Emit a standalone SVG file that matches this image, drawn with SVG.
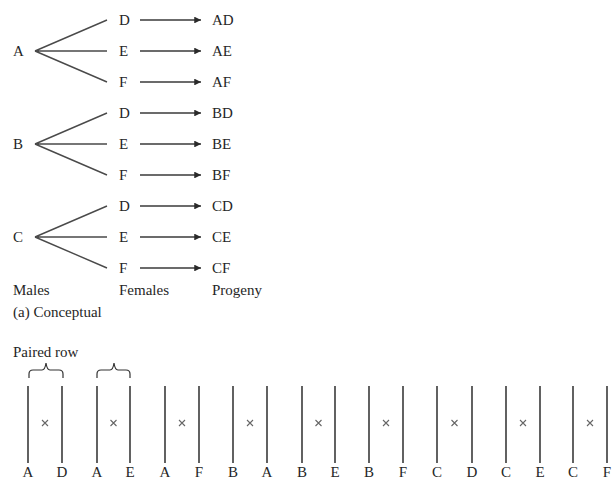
<svg xmlns="http://www.w3.org/2000/svg" width="613" height="479" viewBox="0 0 613 479">
  <style>
    text { font-family: "Liberation Serif", "Times New Roman", serif; font-size: 15px; fill: #262626; }
    .mid { text-anchor: middle; }
    .fan { stroke: #4a4a4a; stroke-width: 1.4; fill: none; }
    .arrow { stroke: #3a3a3a; stroke-width: 1.5; fill: none; marker-end: url(#head); }
    .row { stroke: #3a3a3a; stroke-width: 1.6; }
    .brace { stroke: #333; stroke-width: 1.2; fill: none; }
    .cross { stroke: #666; stroke-width: 1.1; fill: none; }
  </style>
  <defs>
    <marker id="head" viewBox="0 0 10 10" refX="10" refY="5" markerWidth="5" markerHeight="4.5" orient="auto" markerUnits="strokeWidth">
      <path d="M0,0 L10,5 L0,10 z" fill="#2a2a2a"/>
    </marker>
    <!-- small multiplication sign between the two rows of a pair -->
    <path id="x-mark" class="cross" d="M-3,-3 L3,3 M-3,3 L3,-3"/>
  </defs>

  <rect width="613" height="479" fill="#ffffff"/>

  <!-- (a) Conceptual: males, females, progeny -->
  <g id="male-A"><text x="13" y="56">A</text></g>
  <g id="male-B"><text x="13" y="149">B</text></g>
  <g id="male-C"><text x="13" y="242">C</text></g>

  <g id="female-A-D"><text x="119" y="25">D</text></g>
  <g id="female-A-E"><text x="119" y="56">E</text></g>
  <g id="female-A-F"><text x="119" y="87">F</text></g>
  <g id="female-B-D"><text x="119" y="118">D</text></g>
  <g id="female-B-E"><text x="119" y="149">E</text></g>
  <g id="female-B-F"><text x="119" y="180">F</text></g>
  <g id="female-C-D"><text x="119" y="211">D</text></g>
  <g id="female-C-E"><text x="119" y="242">E</text></g>
  <g id="female-C-F"><text x="119" y="273">F</text></g>

  <g id="progeny-AD"><text x="212" y="25">AD</text></g>
  <g id="progeny-AE"><text x="212" y="56">AE</text></g>
  <g id="progeny-AF"><text x="212" y="87">AF</text></g>
  <g id="progeny-BD"><text x="212" y="118">BD</text></g>
  <g id="progeny-BE"><text x="212" y="149">BE</text></g>
  <g id="progeny-BF"><text x="212" y="180">BF</text></g>
  <g id="progeny-CD"><text x="212" y="211">CD</text></g>
  <g id="progeny-CE"><text x="212" y="242">CE</text></g>
  <g id="progeny-CF"><text x="212" y="273">CF</text></g>

  <g id="column-labels">
    <text x="13" y="295">Males</text>
    <text x="119" y="295">Females</text>
    <text x="212" y="295">Progeny</text>
    <text x="13" y="317">(a) Conceptual</text>
  </g>

  <g id="connectors">
    <!-- fans from each male to three females -->
    <path class="fan" d="M35,51 L107,20 M35,51 L107,51 M35,51 L107,82"/>
    <path class="fan" d="M35,144 L107,113 M35,144 L107,144 M35,144 L107,175"/>
    <path class="fan" d="M35,237 L107,206 M35,237 L107,237 M35,237 L107,268"/>
    <!-- female to progeny arrows -->
    <line class="arrow" x1="140" y1="20" x2="201" y2="20"/>
    <line class="arrow" x1="140" y1="51" x2="201" y2="51"/>
    <line class="arrow" x1="140" y1="82" x2="201" y2="82"/>
    <line class="arrow" x1="140" y1="113" x2="201" y2="113"/>
    <line class="arrow" x1="140" y1="144" x2="201" y2="144"/>
    <line class="arrow" x1="140" y1="175" x2="201" y2="175"/>
    <line class="arrow" x1="140" y1="206" x2="201" y2="206"/>
    <line class="arrow" x1="140" y1="237" x2="201" y2="237"/>
    <line class="arrow" x1="140" y1="268" x2="201" y2="268"/>
  </g>

  <!-- paired rows layout -->
  <g id="paired-row-label">
    <text x="13" y="357">Paired row</text>
    <path class="brace" d="M29,378 L29,374 Q29,370 33,370 L42,370 Q45,370 46,363 Q47,370 50,370 L59,370 Q63,370 63,374 L63,378"/>
    <path class="brace" d="M97,378 L97,374 Q97,370 101,370 L110,370 Q113,370 114,363 Q115,370 118,370 L126,370 Q130,370 130,374 L130,378"/>
  </g>

  <g id="pair-AD">
    <line class="row" x1="28" y1="386" x2="28" y2="463"/><line class="row" x1="62" y1="386" x2="62" y2="463"/>
    <use href="#x-mark" x="45" y="423"/>
    <text class="mid" x="28" y="477">A</text><text class="mid" x="62" y="477">D</text>
  </g>
  <g id="pair-AE">
    <line class="row" x1="97" y1="386" x2="97" y2="463"/><line class="row" x1="130" y1="386" x2="130" y2="463"/>
    <use href="#x-mark" x="113.5" y="423"/>
    <text class="mid" x="97" y="477">A</text><text class="mid" x="130" y="477">E</text>
  </g>
  <g id="pair-AF">
    <line class="row" x1="165" y1="386" x2="165" y2="463"/><line class="row" x1="199" y1="386" x2="199" y2="463"/>
    <use href="#x-mark" x="182" y="423"/>
    <text class="mid" x="165" y="477">A</text><text class="mid" x="199" y="477">F</text>
  </g>
  <g id="pair-BA">
    <line class="row" x1="233" y1="386" x2="233" y2="463"/><line class="row" x1="267" y1="386" x2="267" y2="463"/>
    <use href="#x-mark" x="250" y="423"/>
    <text class="mid" x="233" y="477">B</text><text class="mid" x="267" y="477">A</text>
  </g>
  <g id="pair-BE">
    <line class="row" x1="302" y1="386" x2="302" y2="463"/><line class="row" x1="335" y1="386" x2="335" y2="463"/>
    <use href="#x-mark" x="318.5" y="423"/>
    <text class="mid" x="302" y="477">B</text><text class="mid" x="335" y="477">E</text>
  </g>
  <g id="pair-BF">
    <line class="row" x1="369" y1="386" x2="369" y2="463"/><line class="row" x1="403" y1="386" x2="403" y2="463"/>
    <use href="#x-mark" x="386" y="423"/>
    <text class="mid" x="369" y="477">B</text><text class="mid" x="403" y="477">F</text>
  </g>
  <g id="pair-CD">
    <line class="row" x1="437" y1="386" x2="437" y2="463"/><line class="row" x1="472" y1="386" x2="472" y2="463"/>
    <use href="#x-mark" x="454.5" y="423"/>
    <text class="mid" x="437" y="477">C</text><text class="mid" x="472" y="477">D</text>
  </g>
  <g id="pair-CE">
    <line class="row" x1="506" y1="386" x2="506" y2="463"/><line class="row" x1="540" y1="386" x2="540" y2="463"/>
    <use href="#x-mark" x="523" y="423"/>
    <text class="mid" x="506" y="477">C</text><text class="mid" x="540" y="477">E</text>
  </g>
  <g id="pair-CF">
    <line class="row" x1="573" y1="386" x2="573" y2="463"/><line class="row" x1="607" y1="386" x2="607" y2="463"/>
    <use href="#x-mark" x="590" y="423"/>
    <text class="mid" x="573" y="477">C</text><text class="mid" x="607" y="477">F</text>
  </g>
</svg>
